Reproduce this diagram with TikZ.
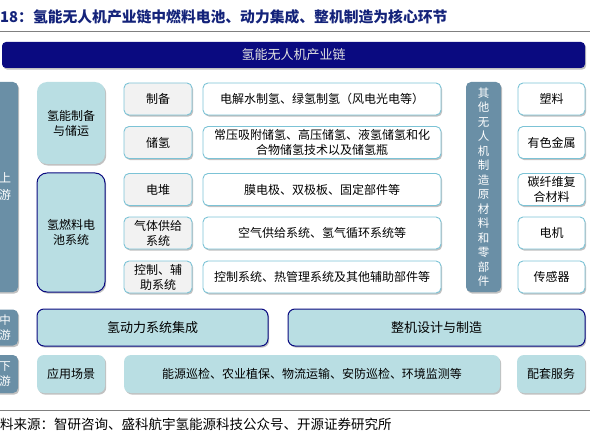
\documentclass[tikz,border=0pt]{standalone}
\usepackage{fontspec}
\newfontfamily\cjk{Noto Sans CJK SC}
\usetikzlibrary{shadows}
\definecolor{navyblue}{HTML}{0A0A80}
\definecolor{titleblue}{HTML}{14237A}
\definecolor{paleblue}{HTML}{B9DEE3}
\definecolor{steelblue}{HTML}{6A8FA6}
\definecolor{edgeblue}{HTML}{7CC3D6}
\begin{document}
\begin{tikzpicture}[x=1pt, y=-1pt, font=\cjk\fontsize{12}{15}\selectfont, line join=round, line cap=round,
	boxshadow/.style={drop shadow={shadow xshift=1.2pt, shadow yshift=-1.6pt, opacity=0.35, fill=black!70}},
	lblbox/.style={boxshadow, draw=edgeblue, line width=0.9pt, fill=gray!10, rounded corners=5pt, align=center, inner sep=0pt, minimum width=68pt, minimum height=32pt},
	descbox/.style={lblbox, fill=white, minimum width=238pt},
	partbox/.style={lblbox, fill=white, minimum width=67pt},
	groupbox/.style={boxshadow, fill=paleblue, rounded corners=10pt, align=center, inner sep=0pt, minimum width=68pt},
	corebox/.style={groupbox, draw=navyblue, line width=1pt},
	sidebox/.style={boxshadow, fill=steelblue, text=white, rounded corners=5pt, align=center, inner sep=0pt}]
	\useasboundingbox (0,0) rectangle (590,436);
	\clip (0,0) rectangle (590,436);
	\def \ya{99} \def \yb{142.5} \def \yc{189.5} \def \yd{233} \def \ye{277}
	% title
	\node[anchor=west, inner sep=0pt, text=titleblue, font=\cjk\bfseries\fontsize{14.8}{16}\selectfont] (title) at (0,17) {18：氢能无人机产业链中燃料电池、动力集成、整机制造为核心环节};
	\draw[gray, line width=0.8pt] (0,31)--(590,31);
	\node[fill=navyblue, text=white!88!black, rounded corners=4pt, boxshadow, minimum width=583pt, minimum height=26pt, inner sep=0pt, font=\cjk\fontsize{13}{15}\selectfont] (chain) at (293.5,55) {氢能无人机产业链};
	% upstream
	\node[sidebox, minimum width=26pt, minimum height=210pt, font=\cjk\fontsize{12}{17}\selectfont] (up) at (5,187) {上\\游};
	\node[groupbox, minimum height=82pt] (prep) at (71,123) {氢能制备\\与储运};
	\node[corebox, minimum height=119pt] (cell) at (71,232.5) {氢燃料电\\池系统};
	\node[lblbox] (make) at (158,\ya) {制备};
	\node[lblbox] (store) at (158,\yb) {储氢};
	\node[lblbox] (stack) at (158,\yc) {电堆};
	\node[lblbox] (gas) at (158,\yd) {气体供给\\系统};
	\node[lblbox] (ctrl) at (158,\ye) {控制、辅\\助系统};
	\node[descbox] (makeD) at (322,\ya) {电解水制氢、绿氢制氢（风电光电等）};
	\node[descbox] (storeD) at (322,\yb) {常压吸附储氢、高压储氢、液氢储氢和化\\合物储氢技术以及储氢瓶};
	\node[descbox] (stackD) at (322,\yc) {膜电极、双极板、固定部件等};
	\node[descbox] (gasD) at (322,\yd) {空气供给系统、氢气循环系统等};
	\node[descbox] (ctrlD) at (322,\ye) {控制系统、热管理系统及其他辅助部件等};
	\node[sidebox, minimum width=35pt, minimum height=210pt, font=\cjk\fontsize{11.5}{14.5}\selectfont] (other) at (483.5,187) {其\\他\\无\\人\\机\\制\\造\\原\\材\\料\\和\\零\\部\\件};
	\node[partbox] (plastic) at (551.5,\ya) {塑料};
	\node[partbox] (metal) at (551.5,\yb) {有色金属};
	\node[partbox] (carbon) at (551.5,\yc) {碳纤维复\\合材料};
	\node[partbox] (motor) at (551.5,\yd) {电机};
	\node[partbox] (sensor) at (551.5,\ye) {传感器};
	% midstream
	\node[sidebox, minimum width=26pt, minimum height=36pt, font=\cjk\fontsize{11.5}{15}\selectfont] (mid) at (5,327.5) {中\\游};
	\node[corebox, rounded corners=7pt, minimum width=231pt, minimum height=37pt, font=\cjk\fontsize{13}{15}\selectfont] (power) at (152.5,327.5) {氢动力系统集成};
	\node[corebox, rounded corners=7pt, minimum width=297pt, minimum height=37pt, font=\cjk\fontsize{13}{15}\selectfont] (whole) at (436.5,327.5) {整机设计与制造};
	% downstream
	\node[sidebox, minimum width=26pt, minimum height=38pt, font=\cjk\fontsize{11.5}{15}\selectfont] (down) at (5,374) {下\\游};
	\node[groupbox, rounded corners=7pt, minimum height=38pt] (scene) at (71,374) {应用场景};
	\node[groupbox, rounded corners=7pt, minimum width=376pt, minimum height=38pt] (uses) at (312,374) {能源巡检、农业植保、物流运输、安防巡检、环境监测等};
	\node[groupbox, rounded corners=7pt, minimum height=38pt] (service) at (551,374) {配套服务};
	% source
	\draw[gray, line width=0.8pt] (0,410)--(590,410);
	\node[anchor=west, inner sep=0pt, font=\cjk\fontsize{13.5}{15}\selectfont] (src) at (0,424) {料来源：智研咨询、盛科航宇氢能源科技公众号、开源证券研究所};
\end{tikzpicture}
\end{document}
